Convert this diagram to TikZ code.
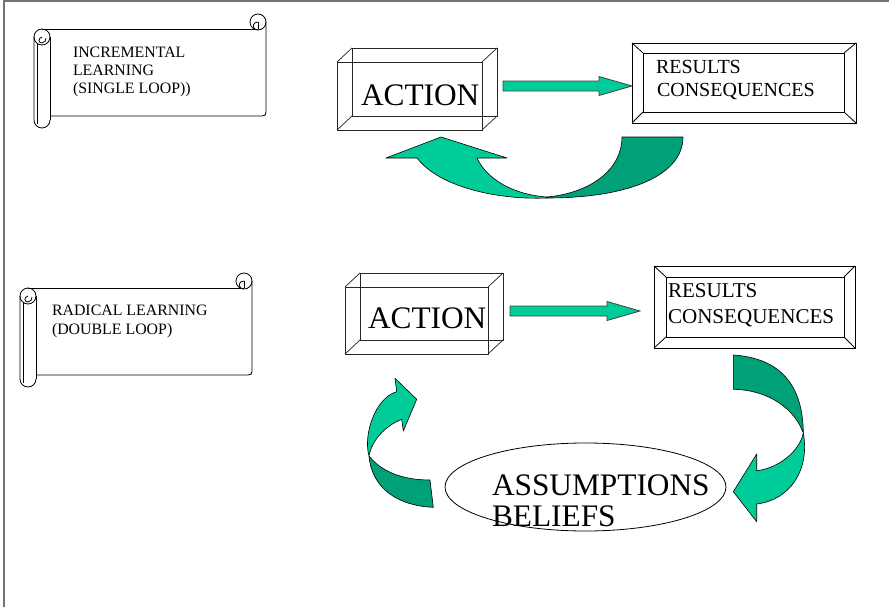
\documentclass[tikz,border=0pt]{standalone}
\usepackage{fontspec}
\setmainfont{Liberation Serif}
\usetikzlibrary{calc,shapes.geometric}

\definecolor{ribbonlight}{RGB}{0,204,153}
\definecolor{ribbondark}{RGB}{0,160,120}

\tikzset{
  ribbonA/.style={fill=ribbonlight,draw=black,line width=0.45pt,line join=round},
  ribbonB/.style={fill=ribbondark,draw=black,line width=0.45pt,line join=round},
  shaftarrow/.style={fill=ribbonlight,draw=black!75,line width=0.6pt,line join=miter},
  edgebox/.style={draw=black!85,line width=0.55pt},
  lbl/.style={anchor=base west,inner sep=0pt,outer sep=0pt},
  scrolltxt/.style={lbl,font=\fontsize{11.9}{13}\selectfont},
  bigtxt/.style={lbl,font=\fontsize{23.5}{26}\selectfont},
  restxt/.style={lbl,font=\fontsize{15}{17}\selectfont},
  scrollline/.style={draw=black,line width=0.6pt},
  framebox/.style={draw,line width=0.6pt,inner sep=0pt,outer sep=0pt},
  % banner with a rolled left end and a curled top-right corner
  pics/scrollbanner/.style={code={
    \draw[scrollline] (-8,0) -- (208,0);
    \draw[scrollline] (216,-7) -- (216,83) .. controls (216,86) and (215,87) .. (212,87) -- (0,87);
    \draw[scrollline] (0,8) -- (0,91);
    \draw[scrollline] (208,-7) circle[radius=8];
    \draw[scrollline] (208,-7) -- (208,0);
    \draw[scrollline] (208,-7) .. controls (203,-7) and (202,-2) .. (205,0);
    \draw[scrollline] (-8,8) circle[radius=8];
    \draw[scrollline] (-8,8) .. controls (-12,9) and (-12,14) .. (-8,14) .. controls (-5,14) and (-4,11) .. (-4,9);
    \draw[scrollline] (-16,8) -- (-16,91) arc[start angle=180,end angle=0,radius=8];
    \draw[scrollline] (-13,15) -- (-13,95);
  }}
}

% broad block arrow between two coordinates on one horizontal line
\newcommand\fatarrow[2]{%
  \filldraw[shaftarrow] ($(#1)+(0,-5)$) -- ($(#2)+(-33,-5)$) -- ($(#2)+(-33,-9.5)$)
    -- (#2) -- ($(#2)+(-33,9.5)$) -- ($(#2)+(-33,5)$) -- ($(#1)+(0,5)$) -- cycle;}

\begin{document}
\begin{tikzpicture}[x=0.75pt,y=-0.75pt]
\useasboundingbox (0,0) rectangle (889,607);

% page frame
\draw[black!55,line width=1.1pt] (4,607) -- (4,1) -- (889,1);

% ---------------- single loop ----------------
\pic at (50,29) {scrollbanner};
\node[scrolltxt] (s1a) at (73,57) {INCREMENTAL};
\node[scrolltxt] (s1b) at (73,75.5) {LEARNING};
\node[scrolltxt] (s1c) at (73,93.5) {(SINGLE LOOP))};

% action block
\node[framebox,draw=black!85,minimum width=108.75pt,minimum height=51pt] (act1) at (409.5,96) {};
\draw[edgebox] ($(act1.south west)+(15,-14)$) rectangle ($(act1.north east)+(15,-14)$);
\foreach \c in {north west,north east,south west,south east}
  \draw[edgebox] (act1.\c) -- ++(15,-14);
\node[bigtxt] (act1t) at (361,105) {ACTION};

% results block
\node[framebox,minimum width=168pt,minimum height=60pt] (res1) at (744,83) {};
\node[framebox,minimum width=150.75pt,minimum height=44.25pt] (res1in) at (743.5,82.5) {};
\foreach \c in {north west,north east,south west,south east}
  \draw[line width=0.6pt] (res1.\c) -- (res1in.\c);
\node[restxt] (res1a) at (656,73) {RESULTS};
\node[restxt] (res1b) at (657,96) {CONSEQUENCES};

\coordinate (arr1s) at (503,86);
\coordinate (arr1t) at (res1.west |- arr1s);
\fatarrow{arr1s}{arr1t}

% feedback ribbon
\filldraw[ribbonB] (547,197) .. controls (590,193) and (622,170) .. (622,137)
  -- (683,137) .. controls (683,175) and (630,198) .. (547,198) -- cycle;
\filldraw[ribbonA] (417,158) -- (386,158) -- (441,137) -- (507,158) -- (477,158)
  .. controls (487,180) and (515,195) .. (547,197)
  -- (547,198) .. controls (500,200) and (440,188) .. (417,158) -- cycle;

% ---------------- double loop ----------------
\pic at (36,288) {scrollbanner};
\node[scrolltxt] (s2a) at (52,315) {RADICAL LEARNING};
\node[scrolltxt] (s2b) at (52,334) {(DOUBLE LOOP)};

\node[framebox,draw=black!85,minimum width=107.25pt,minimum height=50.25pt] (act2) at (416.5,320.5) {};
\draw[edgebox] ($(act2.south west)+(15,-14)$) rectangle ($(act2.north east)+(15,-14)$);
\foreach \c in {north west,north east,south west,south east}
  \draw[edgebox] (act2.\c) -- ++(15,-14);
\node[bigtxt] (act2t) at (368,328) {ACTION};

\node[framebox,minimum width=150.75pt,minimum height=61.5pt] (res2) at (754.5,307) {};
\node[framebox,minimum width=133.5pt,minimum height=45pt] (res2in) at (755,307) {};
\foreach \c in {north west,north east,south west,south east}
  \draw[line width=0.6pt] (res2.\c) -- (res2in.\c);
\node[restxt,font=\fontsize{15.8}{17}\selectfont] (res2a) at (668,297) {RESULTS};
\node[restxt,font=\fontsize{15.8}{17}\selectfont] (res2b) at (668,323) {CONSEQUENCES};

\coordinate (arr2s) at (510,311);
\coordinate (arr2t) at (640,311);
\fatarrow{arr2s}{arr2t}

% assumptions
\node[ellipse,draw=black,line width=0.6pt,minimum width=210.75pt,minimum height=66pt,inner sep=0pt] (assm) at (585.5,487) {};
\node[bigtxt] (assma) at (492,495) {ASSUMPTIONS};
\node[bigtxt] (assmb) at (492,526) {BELIEFS};

% ribbon from results down to assumptions
\filldraw[ribbonB] (733.3,355) .. controls (780,358) and (803,385) .. (803.3,433)
  .. controls (795,410) and (770,390) .. (733.3,389.3) -- cycle;
\filldraw[ribbonA] (803.3,433) .. controls (810,470) and (790,500) .. (756.7,504)
  -- (756.7,521.7) -- (733.3,491.7) -- (756.7,454) -- (756.7,470.7)
  .. controls (780,468) and (800,450) .. (803.3,433) -- cycle;

% ribbon from assumptions back up to action
\filldraw[ribbonB] (369,456) .. controls (380,470) and (400,480) .. (430,480)
  -- (433.3,507.3) .. controls (400,506) and (372,490) .. (369,456) -- cycle;
\filldraw[ribbonA] (396.7,391.7) -- (395,378.3) -- (416.7,399.3) -- (403.3,431) -- (401.7,419.3)
  .. controls (385,426) and (372,440) .. (369,456)
  .. controls (363,435) and (375,398) .. (396.7,391.7) -- cycle;
\end{tikzpicture}
\end{document}
